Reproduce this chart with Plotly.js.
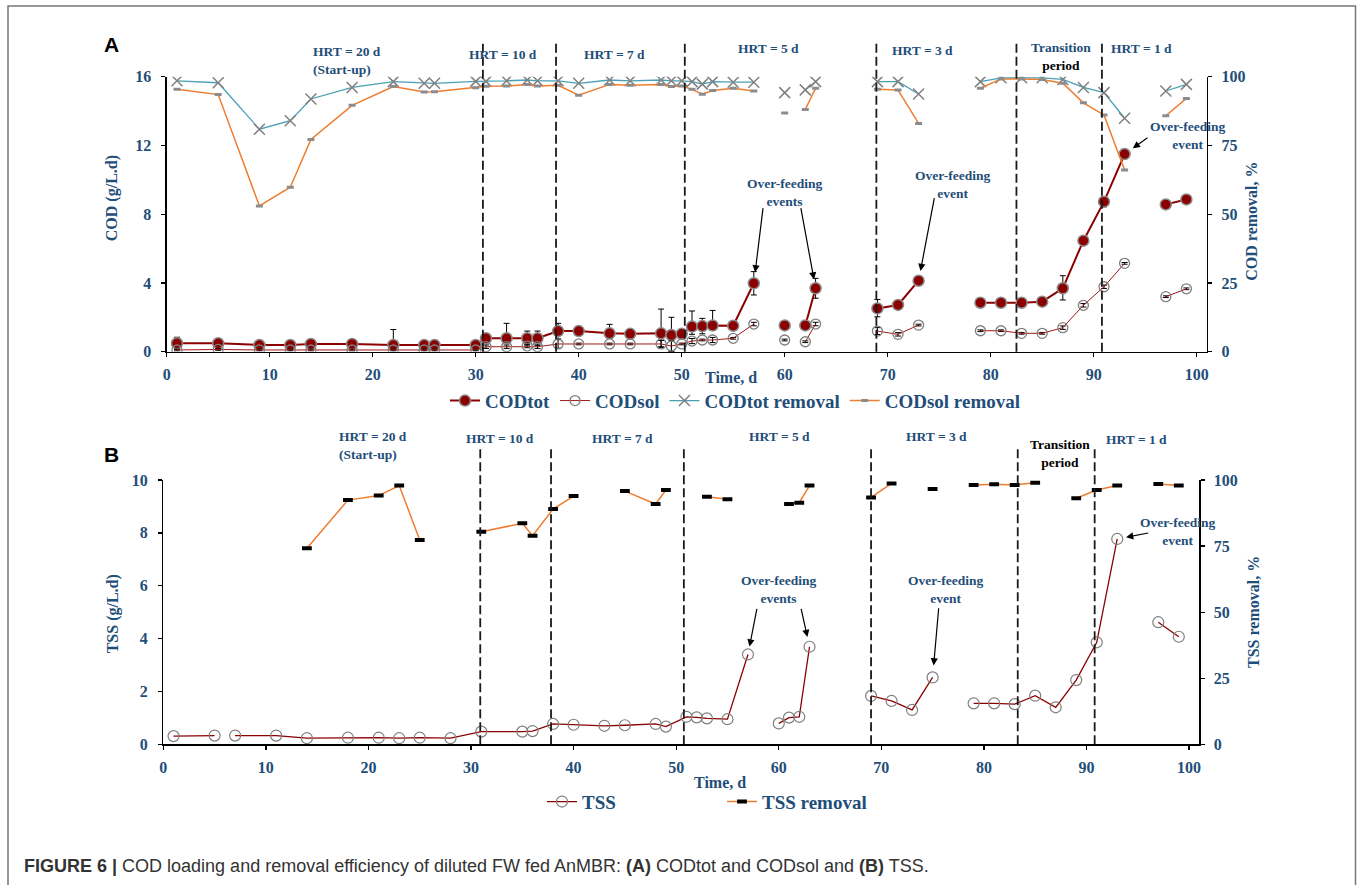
<!DOCTYPE html>
<html><head><meta charset="utf-8">
<script src="https://cdn.plot.ly/plotly-3.0.1.min.js"></script>
<style>html,body{margin:0;padding:0;background:#fff;overflow:hidden}#chart{width:1358px;height:885px}</style>
</head><body><div id="chart"></div>
<script>
// ---------- Panel A data (days, COD in g/L.d, removal in %) ----------
const daysA = [1,5,9,12,14,18,22,25,26,30,
  31,33,35,36,38,40,43,45,48,49,
  50,51,52,53,55,57,null,60,null,62,
  63,null,69,71,73,null,79,81,83,85,
  87,89,91,93,null,97,99];
const codTot = [0.49,0.49,0.39,0.39,0.45,0.45,0.39,0.39,0.39,0.39,
  0.78,0.78,0.78,0.78,1.20,1.20,1.07,1.04,1.07,0.97,
  1.04,1.46,1.49,1.53,1.51,3.98,null,1.53,null,1.53,
  3.69,null,2.52,2.72,4.13,null,2.85,2.85,2.85,2.91,
  3.69,6.46,8.73,11.50,null,8.57,8.86];
const codTotErrUp = [0.35,0.25,0.1,0.1,0.1,0.1,0.9,0.1,0.1,0.1,
  0.1,0.87,0.42,0.42,0.45,0.1,0.52,0.1,1.41,1.03,
  0.1,0.91,0.45,0.87,0.1,0.68,null,0.1,null,0.1,
  0.58,null,0.52,0.1,0.2,null,0.1,0.1,0.1,0.2,
  0.73,0.1,0.3,0.1,null,0.25,0.1];
const codTotErrDown = [0.35,0.25,0.1,0.1,0.1,0.1,0.1,0.1,0.1,0.1,
  0.1,0.3,0.4,0.4,0.45,0.1,0.3,0.1,0.78,0.97,
  0.1,0.45,0.45,0.3,0.1,0.68,null,0.1,null,0.1,
  0.58,null,0.49,0.1,0.2,null,0.1,0.1,0.1,0.2,
  0.68,0.1,0.3,0.1,null,0.25,0.1];
const codSol = [0.10,0.13,0.10,0.10,0.10,0.10,0.10,0.10,0.10,0.10,
  0.29,0.29,0.33,0.29,0.45,0.45,0.45,0.45,0.45,0.33,
  0.45,0.62,0.68,0.68,0.78,1.61,null,0.68,null,0.58,
  1.61,null,1.20,1.01,1.55,null,1.22,1.22,1.07,1.07,
  1.40,2.70,3.78,5.14,null,3.20,3.66];
const codSolErr = [0.05,0.05,0.05,0.05,0.05,0.05,0.05,0.05,0.05,0.05,
  0.1,0.1,0.1,0.1,0.25,0.05,0.05,0.05,0.2,0.3,
  0.05,0.15,0.05,0.15,0.05,0.1,null,0.05,null,0.05,
  0.1,null,0.2,0.1,0.05,null,0.05,0.05,0.05,0.05,
  0.1,0.1,0.1,0.05,null,0.05,0.05];
const codTotRemoval = [98.5,97.8,80.9,84.0,91.9,96.1,98.2,97.6,97.6,98.3,
  98.3,98.5,98.8,98.5,98.5,97.6,98.8,98.5,98.8,98.5,
  98.5,98.2,97.3,98.2,98.0,98.0,null,94.2,null,95.2,
  98.2,null,98.2,98.2,93.7,null,98.2,99.6,99.6,99.6,
  99.0,96.1,94.2,84.9,null,94.8,97.2];
const codSolRemoval = [95.4,93.5,53.0,59.8,77.2,89.6,96.4,94.4,94.5,96.0,
  96.5,96.6,97.2,96.6,96.9,93.3,97.2,96.9,97.2,96.4,
  96.6,95.4,93.6,95.0,95.8,94.8,null,86.8,null,88.1,
  95.8,null,95.4,95.2,83.0,null,95.8,99.2,99.2,99.0,
  97.6,90.5,86.1,66.1,null,85.8,92.1];

// ---------- Panel B data ----------
const daysTss = [1,5,null,7,11,14,18,21,23,25,
  28,31,35,36,38,40,43,45,48,49,
  51,52,53,55,57,null,60,61,62,63,
  null,69,71,73,75,null,79,81,83,85,
  87,89,91,93,null,97,99];
const tss = [0.31,0.33,null,0.33,0.33,0.23,0.25,0.25,0.23,0.25,
  0.23,0.48,0.48,0.50,0.77,0.74,0.70,0.72,0.77,0.67,
  1.04,1.02,0.98,0.95,3.40,null,0.79,1.01,1.04,3.69,
  null,1.83,1.64,1.30,2.53,null,1.55,1.55,1.52,1.84,
  1.40,2.43,3.86,7.77,null,4.62,4.07];
const daysTssRemoval = [14,18,21,23,25,null,31,35,36,38,
  40,null,45,48,49,null,53,55,null,61,
  62,63,null,69,71,null,75,null,79,81,
  83,85,null,89,91,93,null,97,99];
const tssRemoval = [74.2,92.4,94.1,97.9,77.3,null,80.4,83.6,78.9,89.0,
  93.9,null,95.8,90.9,96.2,null,93.7,92.7,null,90.9,
  91.4,97.9,null,93.4,98.7,null,96.6,null,98.1,98.4,
  98.1,99.0,null,93.1,96.2,97.9,null,98.5,97.9];

// ---------- period boundaries and ticks ----------
const hrtBoundariesA = [30.7,37.8,50.3,68.9,82.5,90.8];
const hrtBoundariesB = [30.9,37.8,50.75,69.0,83.3,90.8];
const xTicks = [0,10,20,30,40,50,60,70,80,90,100];
const codTicks = [0,4,8,12,16];
const tssTicks = [0,2,4,6,8,10];
const removalTicks = [0,25,50,75,100];
const overfeedDaysA = [57,63,73,93];
const overfeedDaysB = [57,63,75,93];

// ---------- styling ----------
const W = 1358, H = 885;
const SERIF = '"Liberation Serif","Times New Roman",serif';
const BLUE = '#1f4e79';
const px = v => v / W, py = v => 1 - v / H;
const tickFont = {family: SERIF, size: 16, color: BLUE, weight: 'bold'};
const lblFont = {family: SERIF, size: 13.5, color: BLUE, weight: 'bold'};
const titleFont = {family: SERIF, size: 16, color: BLUE, weight: 'bold'};
const legFont = {family: SERIF, size: 19, color: BLUE, weight: 'bold'};

const traces = [
  {name: 'CODtot', x: daysA, y: codTot, xaxis: 'x', yaxis: 'y', mode: 'lines+markers', legend: 'legend',
   line: {color: '#8b0000', width: 2}, marker: {symbol: 'circle', size: 11, color: '#8b0000', line: {color: '#8c8c8c', width: 1.5}},
   error_y: {type: 'data', symmetric: false, array: codTotErrUp, arrayminus: codTotErrDown, color: '#000', thickness: 1, width: 3}},
  {name: 'CODsol', x: daysA, y: codSol, xaxis: 'x', yaxis: 'y', mode: 'lines+markers', legend: 'legend',
   line: {color: '#a01818', width: 1}, marker: {symbol: 'circle-open', size: 10, color: '#7f7f7f', line: {width: 1.3}},
   error_y: {type: 'data', array: codSolErr, color: '#000', thickness: 1, width: 3}},
  {name: 'CODtot removal', x: daysA, y: codTotRemoval, xaxis: 'x', yaxis: 'y2', mode: 'lines+markers', legend: 'legend',
   line: {color: '#4a9fb5', width: 1.3}, marker: {symbol: 'x-thin-open', size: 11, color: '#808080', line: {color: '#808080', width: 1.5}}},
  {name: 'CODsol removal', x: daysA, y: codSolRemoval, xaxis: 'x', yaxis: 'y2', mode: 'lines+markers', legend: 'legend',
   line: {color: '#ed7d31', width: 1.5}, marker: {symbol: 'line-ew', size: 5, color: '#8c8c8c', line: {color: '#8c8c8c', width: 3}}},
  {name: 'TSS', x: daysTss, y: tss, xaxis: 'x2', yaxis: 'y3', mode: 'lines+markers', legend: 'legend2',
   line: {color: '#8b0000', width: 1.3}, marker: {symbol: 'circle-open', size: 11, color: '#7f7f7f', line: {width: 1.2}}},
  {name: 'TSS removal', x: daysTssRemoval, y: tssRemoval, xaxis: 'x2', yaxis: 'y4', mode: 'lines+markers', legend: 'legend2',
   line: {color: '#ed7d31', width: 1.5}, marker: {symbol: 'line-ew', size: 7, color: '#000', line: {color: '#000', width: 4}}}
];

const ax = {showline: true, linecolor: '#000', linewidth: 1.3, ticks: 'outside', ticklen: 4, tickcolor: '#000', tickwidth: 1.3,
  showgrid: false, zeroline: false, tickfont: tickFont, fixedrange: true};

const shapes = [];
hrtBoundariesA.forEach(d => shapes.push({type: 'line', xref: 'x', yref: 'paper', x0: d, x1: d, y0: py(351.7), y1: py(42),
  line: {color: '#1a1a1a', width: 1.8, dash: '9px,4px'}}));
hrtBoundariesB.forEach(d => shapes.push({type: 'line', xref: 'x2', yref: 'paper', x0: d, x1: d, y0: py(744.3), y1: py(447),
  line: {color: '#1a1a1a', width: 1.8, dash: '9px,4px'}}));
shapes.push({type: 'rect', xref: 'paper', yref: 'paper', x0: px(8), x1: px(1355.5), y0: -0.05, y1: py(6),
  line: {color: '#777', width: 1.5}});

const ann = [];
function txt(text, x, y, font, extra) {
  ann.push(Object.assign({text: text, xref: 'paper', yref: 'paper', x: px(x), y: py(y), xanchor: 'center', yanchor: 'middle',
    showarrow: false, font: font}, extra || {}));
}
// panel letters
txt('A', 111, 44.7, {family: '"Liberation Sans",Arial,sans-serif', size: 21, color: '#000', weight: 'bold'});
txt('B', 111.5, 454, {family: '"Liberation Sans",Arial,sans-serif', size: 21, color: '#000', weight: 'bold'});
// axis titles
txt('COD (g/L.d)', 111.7, 198.5, titleFont, {textangle: -90});
txt('COD removal, %', 1252, 221.7, titleFont, {textangle: -90});
txt('Time, d', 731, 378, titleFont);
txt('TSS (g/L.d)', 113.3, 614, titleFont, {textangle: -90});
txt('TSS removal, %', 1253, 612, titleFont, {textangle: -90});
txt('Time, d', 720, 782.7, titleFont);
// period labels A
txt('HRT = 20 d<br>(Start-up)', 310.7, 60.5, lblFont, {xanchor: 'left', align: 'left'});
txt('HRT = 10 d', 503, 55, lblFont);
txt('HRT = 7 d', 614, 54.3, lblFont);
txt('HRT = 5 d', 768.3, 49, lblFont);
txt('HRT = 3 d', 922, 50, lblFont);
txt('Transition<br><span style="color:#000">period</span>', 1061, 56.2, lblFont);
txt('HRT = 1 d', 1141, 48.3, lblFont);
txt('Over-feeding<br>events', 784.5, 192, lblFont);
txt('Over-feeding<br>event', 952.8, 184.7, lblFont);
txt('Over-feeding<br>event', 1187.5, 136, lblFont);
// period labels B
txt('HRT = 20 d<br>(Start-up)', 337, 445.3, lblFont, {xanchor: 'left', align: 'left'});
txt('HRT = 10 d', 500.3, 438.3, lblFont);
txt('HRT = 7 d', 622, 438.3, lblFont);
txt('HRT = 5 d', 779, 436, lblFont);
txt('HRT = 3 d', 936, 436, lblFont);
txt('Transition<br>period', 1060, 453, Object.assign({}, lblFont, {color: '#000'}));
txt('HRT = 1 d', 1136, 439.3, lblFont);
txt('Over-feeding<br>events', 778.8, 589, lblFont);
txt('Over-feeding<br>event', 945.5, 589, lblFont);
txt('Over-feeding<br>event', 1177.5, 531.5, lblFont);
// caption
txt('<b>FIGURE 6 |</b> COD loading and removal efficiency of diluted FW fed AnMBR: <b>(A)</b> CODtot and CODsol and <b>(B)</b> TSS.',
  22.4, 866, {family: '"Liberation Sans Narrow","Liberation Sans",Arial,sans-serif', size: 18, color: '#333'}, {xanchor: 'left'});

// arrows pointing at the over-feeding data points
const arrowOffA = [[9.4, -76.6, 11], [-15, -81.6, 9], [16, -84, 10], [24.4, -17.3, 10]];
const arrowOffB = [[9.2, -47, 8], [-8.7, -39.5, 10], [6.2, -70.7, 12], [32.5, -6.2, 9]];
overfeedDaysA.forEach((d, i) => ann.push({xref: 'x', yref: 'y', x: d, y: codTot[daysA.indexOf(d)], text: '', showarrow: true,
  ax: arrowOffA[i][0], ay: arrowOffA[i][1], standoff: arrowOffA[i][2], arrowhead: 2, arrowsize: 1.2, arrowwidth: 1.2, arrowcolor: '#000'}));
overfeedDaysB.forEach((d, i) => ann.push({xref: 'x2', yref: 'y3', x: d, y: tss[daysTss.indexOf(d)], text: '', showarrow: true,
  ax: arrowOffB[i][0], ay: arrowOffB[i][1], standoff: arrowOffB[i][2], arrowhead: 2, arrowsize: 1.2, arrowwidth: 1.2, arrowcolor: '#000'}));

const layout = {
  width: W, height: H, margin: {l: 0, r: 0, t: 0, b: 0}, autosize: false,
  paper_bgcolor: '#fff', plot_bgcolor: 'rgba(0,0,0,0)', showlegend: true,
  xaxis: Object.assign({}, ax, {domain: [px(166.7), px(1207)], range: [0, 101], tickvals: xTicks, anchor: 'y', ticklabelstandoff: 4}),
  yaxis: Object.assign({}, ax, {domain: [py(351.7), py(76.7)], range: [0, 16], tickvals: codTicks, anchor: 'x', ticklabelstandoff: 7}),
  yaxis2: Object.assign({}, ax, {overlaying: 'y', side: 'right', anchor: 'x', range: [0, 100], tickvals: removalTicks, ticklabelstandoff: 6}),
  xaxis2: Object.assign({}, ax, {domain: [px(163.3), px(1199.3)], range: [0, 101], tickvals: xTicks, anchor: 'y3', ticklabelstandoff: 4}),
  yaxis3: Object.assign({}, ax, {domain: [py(744.3), py(480)], range: [0, 10], tickvals: tssTicks, anchor: 'x2', ticklabelstandoff: 7}),
  yaxis4: Object.assign({}, ax, {overlaying: 'y3', side: 'right', anchor: 'x2', range: [0, 100], tickvals: removalTicks, ticklabelstandoff: 6}),
  legend: {orientation: 'h', x: px(445), xanchor: 'left', y: py(400.7), yanchor: 'middle', font: legFont, bgcolor: 'rgba(0,0,0,0)'},
  legend2: {orientation: 'h', x: px(542), xanchor: 'left', y: py(801.7), yanchor: 'middle', font: legFont, bgcolor: 'rgba(0,0,0,0)',
    entrywidth: 135, entrywidthmode: 'pixels'},
  shapes: shapes,
  annotations: ann
};

Plotly.newPlot('chart', traces, layout, {displayModeBar: false, staticPlot: true});
</script>
</body></html>
